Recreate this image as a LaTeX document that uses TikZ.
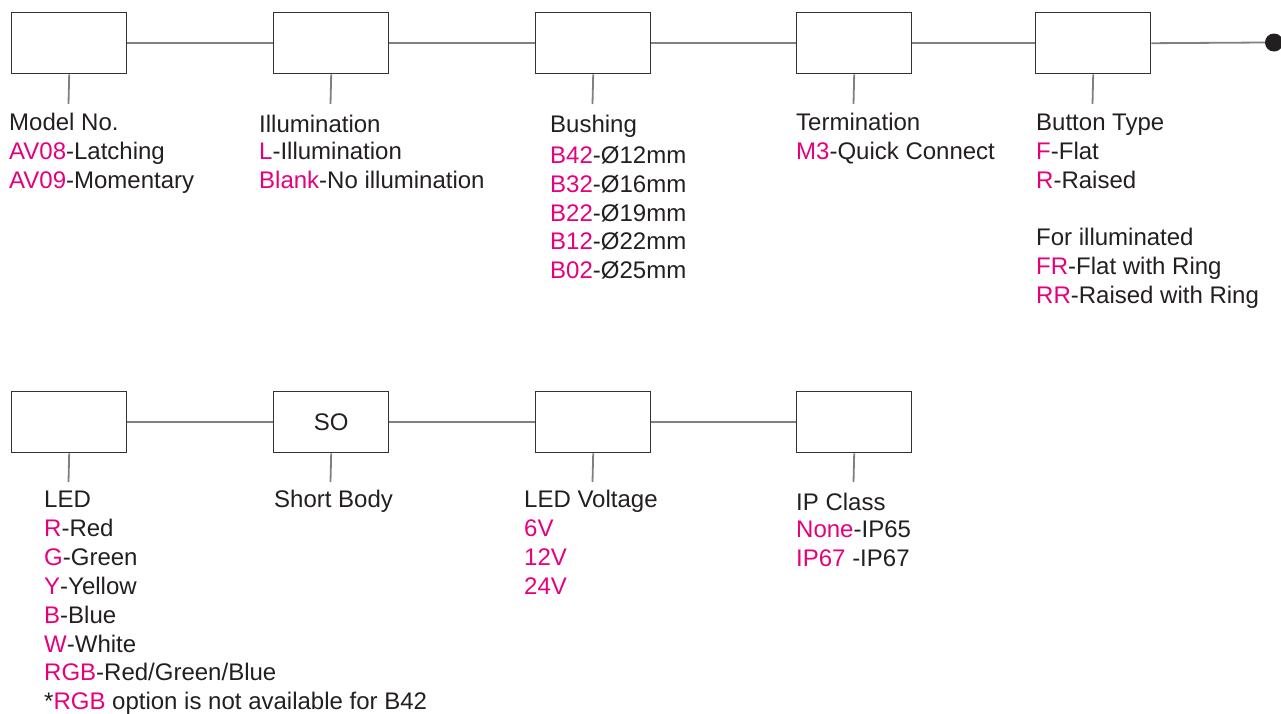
\documentclass[tikz,border=0pt]{standalone}
\usepackage{fontspec}
\setmainfont{Liberation Sans}
\definecolor{pk}{HTML}{E6007E}
\definecolor{txt}{HTML}{231F20}
\definecolor{boxc}{HTML}{333333}
\definecolor{linec}{HTML}{808080}
\newcommand\pkt[1]{\textcolor{pk}{#1}}
\begin{document}
\begin{tikzpicture}[x=1pt,y=-1pt,
  box/.style={draw=boxc, line width=1.4pt, minimum width=115pt, minimum height=61pt, inner sep=0pt, anchor=north west, font=\fontsize{24}{29}\selectfont, text=txt},
  link/.style={draw=linec, line width=1.8pt},
  lbl/.style={anchor=base west, inner sep=0pt, text=txt, font=\fontsize{24}{29}\selectfont}]
\useasboundingbox (0,0) rectangle (1281,713);
% top row boxes
\node[box] (b1) at (11,12) {};
\node[box] (b2) at (273,12) {};
\node[box] (b3) at (535,12) {};
\node[box] (b4) at (796,12) {};
\node[box] (b5) at (1035,12) {};
\node[circle, fill=txt, inner sep=0pt, minimum size=18pt] (end) at (1274,42.5) {};
\draw[link] (b1.east) -- (b2.west);
\draw[link] (b2.east) -- (b3.west);
\draw[link] (b3.east) -- (b4.west);
\draw[link] (b4.east) -- (b5.west);
\draw[link] (b5.east) -- (end.west);
% ticks
\coordinate (t1) at (68.5,104);
\coordinate (t2) at (330.5,104);
\coordinate (t3) at (592.5,104);
\coordinate (t4) at (853.5,104);
\coordinate (t5) at (1092.5,104);
\draw[link] (b1.south) -- (t1);
\draw[link] (b2.south) -- (t2);
\draw[link] (b3.south) -- (t3);
\draw[link] (b4.south) -- (t4);
\draw[link] (b5.south) -- (t5);
% labels top
\node[lbl] (m1) at (9,130) {Model No.};
\node[lbl] (m2) at (9,159) {\pkt{AV08}-Latching};
\node[lbl] (m3) at (9,188) {\pkt{AV09}-Momentary};
\node[lbl] (i1) at (259,132) {Illumination};
\node[lbl] (i2) at (259,159) {\pkt{L}-Illumination};
\node[lbl] (i3) at (259,188) {\pkt{Blank}-No illumination};
\node[lbl] (u1) at (550,132) {Bushing};
\node[lbl] (u2) at (550,163.5) {\pkt{B42}-Ø12mm};
\node[lbl] (u3) at (550,192.5) {\pkt{B32}-Ø16mm};
\node[lbl] (u4) at (550,221) {\pkt{B22}-Ø19mm};
\node[lbl] (u5) at (550,249.5) {\pkt{B12}-Ø22mm};
\node[lbl] (u6) at (550,278) {\pkt{B02}-Ø25mm};
\node[lbl] (e1) at (796,130) {Termination};
\node[lbl] (e2) at (796,159) {\pkt{M3}-Quick Connect};
\node[lbl] (p1) at (1036,130) {Button Type};
\node[lbl] (p2) at (1036,159) {\pkt{F}-Flat};
\node[lbl] (p3) at (1036,188) {\pkt{R}-Raised};
\node[lbl] (p4) at (1036,245) {For illuminated};
\node[lbl] (p5) at (1036,274) {\pkt{FR}-Flat with Ring};
\node[lbl] (p6) at (1036,303) {\pkt{RR}-Raised with Ring};
% bottom row boxes
\node[box] (c1) at (11,391) {};
\node[box] (c2) at (273,391) {SO};
\node[box] (c3) at (535,391) {};
\node[box] (c4) at (796,391) {};
\draw[link] (c1.east) -- (c2.west);
\draw[link] (c2.east) -- (c3.west);
\draw[link] (c3.east) -- (c4.west);
\coordinate (s1) at (68.5,482);
\coordinate (s2) at (330.5,482);
\coordinate (s3) at (592.5,482);
\coordinate (s4) at (853.5,482);
\draw[link] (c1.south) -- (s1);
\draw[link] (c2.south) -- (s2);
\draw[link] (c3.south) -- (s3);
\draw[link] (c4.south) -- (s4);
% labels bottom
\node[lbl] (l1) at (44,507) {LED};
\node[lbl] (l2) at (44,536) {\pkt{R}-Red};
\node[lbl] (l3) at (44,565) {\pkt{G}-Green};
\node[lbl] (l4) at (44,594) {\pkt{Y}-Yellow};
\node[lbl] (l5) at (44,623) {\pkt{B}-Blue};
\node[lbl] (l6) at (44,652) {\pkt{W}-White};
\node[lbl] (l7) at (44,680.5) {\pkt{RGB}-Red/Green/Blue};
\node[lbl] (l8) at (44,709) {*\pkt{RGB} option is not available for B42};
\node[lbl] (h1) at (274,507) {Short Body};
\node[lbl] (v1) at (524,507) {LED Voltage};
\node[lbl] (v2) at (524,536) {\pkt{6V}};
\node[lbl] (v3) at (524,565) {\pkt{12V}};
\node[lbl] (v4) at (524,594) {\pkt{24V}};
\node[lbl] (k1) at (796,510) {IP Class};
\node[lbl] (k2) at (796,537) {\pkt{None}-IP65};
\node[lbl] (k3) at (796,566) {\pkt{IP67} -IP67};
\end{tikzpicture}
\end{document}
